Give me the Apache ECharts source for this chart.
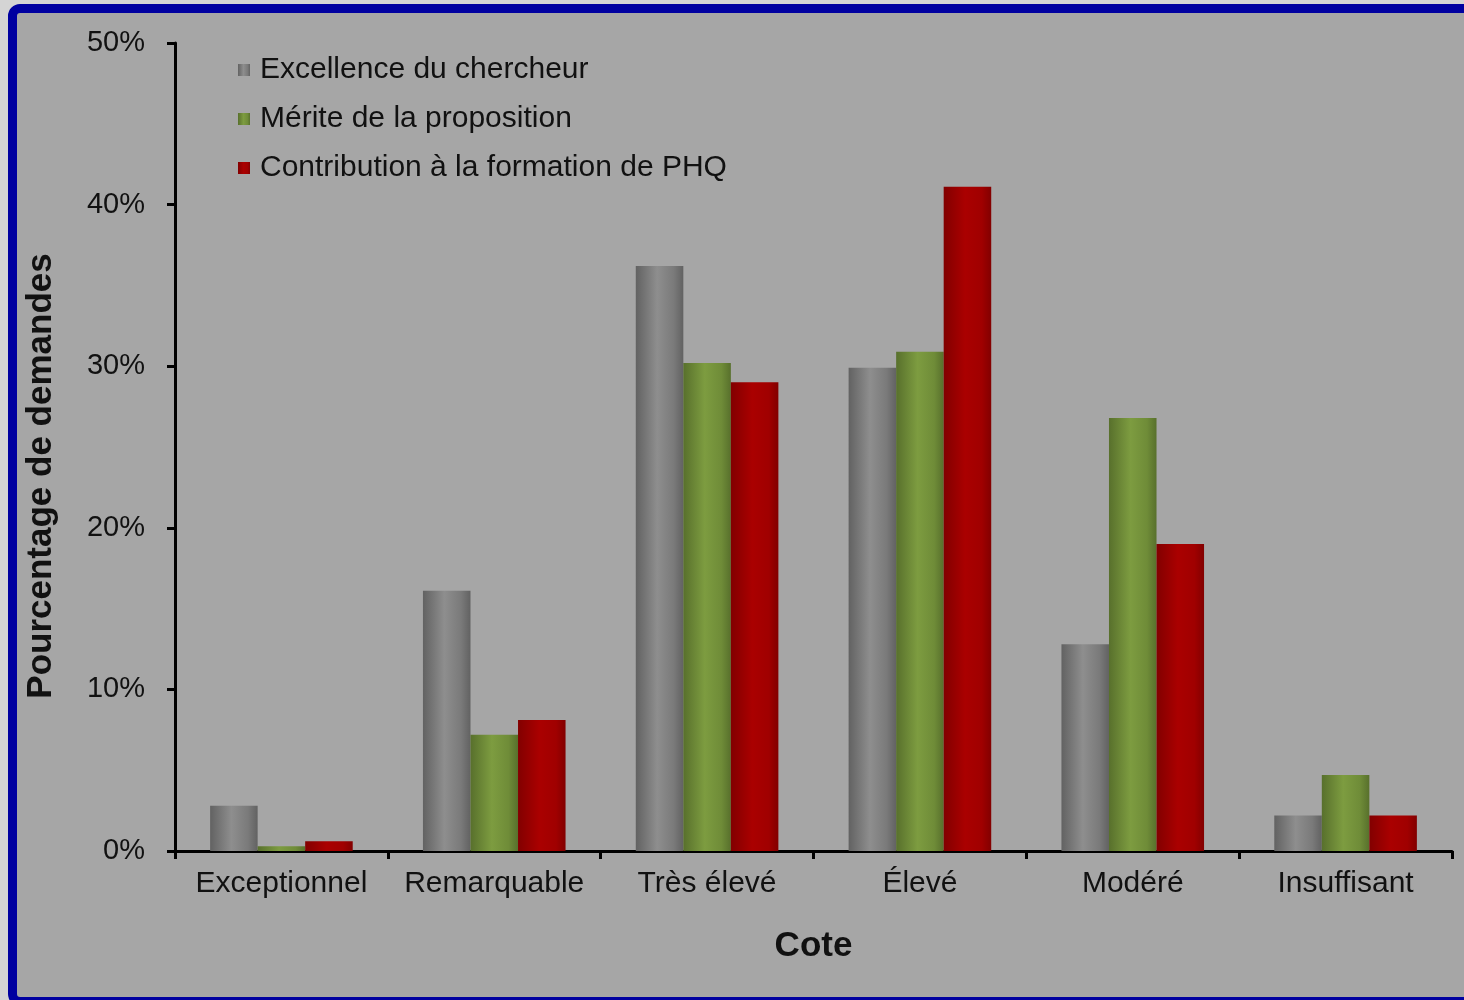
<!DOCTYPE html>
<html>
<head>
<meta charset="utf-8">
<script src="https://cdn.jsdelivr.net/npm/echarts@6/dist/echarts.min.js"></script>
<style>
  html, body { margin: 0; padding: 0; background: #d4d4d4; overflow: hidden; }
  #frame {
    position: absolute; left: 8px; top: 4px; width: 1470px; height: 984px;
    background: #a6a6a6; border: 9px solid #0000a0; border-radius: 12px;
  }
  #chart { position: absolute; left: 0; top: 0; width: 1464px; height: 1000px; }
</style>
</head>
<body>
<div id="frame"></div>
<div id="chart"></div>
<script>
  // categories (cote)
  var categories = ['Exceptionnel', 'Remarquable', 'Très élevé', 'Élevé', 'Modéré', 'Insuffisant'];
  // series names
  var seriesNames = ['Excellence du chercheur', 'Mérite de la proposition', 'Contribution à la formation de PHQ'];
  // % of applications
  var excellence = [2.8, 16.1, 36.2, 29.9, 12.8, 2.2];
  var merite = [0.3, 7.2, 30.2, 30.9, 26.8, 4.7];
  var contribution = [0.6, 8.1, 29.0, 41.1, 19.0, 2.2];
  var yTicks = [0, 10, 20, 30, 40, 50];

  var font = '"Liberation Sans", Arial, sans-serif';

  // cylinder-like shading across the bar
  function shade(dark, mid, light) {
    return new echarts.graphic.LinearGradient(0, 0, 1, 0, [
      { offset: 0, color: dark },
      { offset: 0.45, color: light },
      { offset: 0.8, color: mid },
      { offset: 1, color: dark }
    ]);
  }

  var chart = echarts.init(document.getElementById('chart'));
  var option = {
    backgroundColor: 'transparent',
    animation: false,
    grid: { left: 175, right: 12, top: 43, bottom: 149 },
    legend: {
      orient: 'vertical',
      left: 233, top: 50,
      icon: 'rect',
      itemWidth: 12, itemHeight: 12,
      itemGap: 19,
      textStyle: { fontFamily: font, fontSize: 30, color: '#111', lineHeight: 30, padding: [0, 0, 0, 5] },
      data: seriesNames
    },
    xAxis: {
      type: 'category',
      data: categories,
      name: 'Cote',
      nameLocation: 'middle',
      nameGap: 78,
      nameTextStyle: { fontFamily: font, fontSize: 35, fontWeight: 'bold', color: '#111' },
      axisLine: { lineStyle: { color: '#000', width: 3 } },
      axisTick: { show: true, interval: 0, length: 8, lineStyle: { color: '#000', width: 3 } },
      axisLabel: { interval: 0, hideOverlap: false, fontFamily: font, fontSize: 30, color: '#111', margin: 18 }
    },
    yAxis: {
      type: 'value',
      min: yTicks[0], max: yTicks[yTicks.length - 1], interval: 10,
      name: 'Pourcentage de demandes',
      nameLocation: 'middle',
      nameGap: 116,
      nameRotate: 90,
      nameTextStyle: { fontFamily: font, fontSize: 35, fontWeight: 'bold', color: '#111', padding: [0, 58, 0, 0] },
      splitLine: { show: false },
      axisLine: { show: true, lineStyle: { color: '#000', width: 3 } },
      axisTick: { show: true, length: 8, lineStyle: { color: '#000', width: 3 } },
      axisLabel: { fontFamily: font, fontSize: 29, color: '#111', margin: 30, formatter: '{value}%' }
    },
    series: [
      {
        name: seriesNames[0], type: 'bar', data: excellence,
        barGap: '0%', barCategoryGap: '33%',
        itemStyle: { color: shade('#626262', '#7a7a7a', '#8e8e8e') }
      },
      {
        name: seriesNames[1], type: 'bar', data: merite,
        barGap: '0%', barCategoryGap: '33%',
        itemStyle: { color: shade('#58702c', '#6f8c38', '#7d9c40') }
      },
      {
        name: seriesNames[2], type: 'bar', data: contribution,
        barGap: '0%', barCategoryGap: '33%',
        itemStyle: { color: shade('#820000', '#a00000', '#aa0000') }
      }
    ]
  };
  chart.setOption(option);
</script>
</body>
</html>
